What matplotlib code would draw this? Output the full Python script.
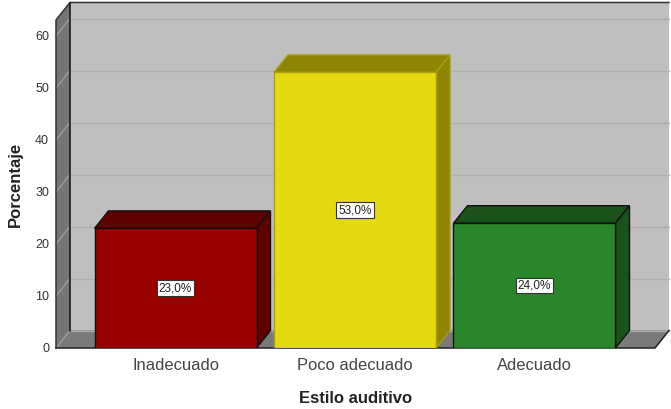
import numpy as np
import matplotlib.pyplot as plt
from matplotlib.patches import Polygon

plt.rcParams['font.family'] = ['Liberation Sans', 'DejaVu Sans']

categories = ['Inadecuado', 'Poco adecuado', 'Adecuado']
values = [23.0, 53.0, 24.0]
labels = ['23,0%', '53,0%', '24,0%']
yticks = [0, 10, 20, 30, 40, 50, 60]

front_colors = ['#990000', '#e5d90f', '#2a862a']
top_colors = ['#5f0000', '#8f8505', '#1a521a']
side_colors = ['#5f0000', '#8f8505', '#1a521a']
edge_colors = ['#111111', '#a89f10', '#111111']

W, H = 671, 409
fig = plt.figure(figsize=(W / 100, H / 100), dpi=100)
ax = fig.add_axes([56 / W, 1 - 348 / H, 599 / W, 328 / H])

# one category is 179.5 px, one unit is 5.2 px
ax.set_xlim((56 - 175.5) / 179.5, (655 - 175.5) / 179.5)
ax.set_ylim(0, 328 / 5.2)
x0, x1 = ax.get_xlim()
y0, y1 = ax.get_ylim()
dx = 14 / 179.5
dy = 17.5 / 5.2
width = 162 / 179.5


def poly(pts, fc, ec='none', lw=1.0, z=1):
    ax.add_patch(Polygon(pts, closed=True, facecolor=fc, edgecolor=ec, linewidth=lw,
                         zorder=z, clip_on=False, joinstyle='miter'))


# walls
poly([(x0 + dx, y0 + dy), (x1 + dx, y0 + dy), (x1 + dx, y1 + dy), (x0 + dx, y1 + dy)], '#bfbfbf', z=1)
poly([(x0, y0), (x0 + dx, y0 + dy), (x0 + dx, y1 + dy), (x0, y1)], '#757575', z=1)
poly([(x0, y0), (x1, y0), (x1 + dx, y0 + dy), (x0 + dx, y0 + dy)], '#7a7a7a', z=1)

for t in yticks[1:]:
    ax.plot([x0 + dx, x1 + dx], [t + dy, t + dy], color='#b0b0b0', lw=1, zorder=2, clip_on=False)
    ax.plot([x0, x0 + dx], [t, t + dy], color='#a0a0a0', lw=0.9, zorder=2, clip_on=False)
ax.plot([x0, x0 + dx], [0, dy], color='#a0a0a0', lw=0.9, zorder=2, clip_on=False)

# wall outlines
ax.plot([x0, x0, x0 + dx, x1 + dx], [y0, y1, y1 + dy, y1 + dy], color='#333333', lw=1.1, zorder=3, clip_on=False)
ax.plot([x0 + dx, x0 + dx], [y0 + dy, y1 + dy], color='#111111', lw=1.1, zorder=3, clip_on=False)
ax.plot([x0, x1, x1 + dx], [y0, y0, y0 + dy], color='#222222', lw=1.1, zorder=3, clip_on=False)
ax.plot([x0 + dx, x1 + dx], [y0 + dy, y0 + dy], color='#a8a8a8', lw=1, zorder=2, clip_on=False)

# bars
xs = np.arange(len(categories))
bars = ax.bar(xs, values, width=width, color=front_colors, edgecolor=edge_colors, linewidth=1.0, zorder=5)
for i, b in enumerate(bars):
    l, r, v = b.get_x(), b.get_x() + b.get_width(), b.get_height()
    poly([(l, v), (r, v), (r + dx, v + dy), (l + dx, v + dy)], top_colors[i], edge_colors[i], 1.0, 4)
    poly([(r, 0), (r + dx, dy), (r + dx, v + dy), (r, v)], side_colors[i], edge_colors[i], 1.0, 4)
    ax.text(xs[i], v / 2, labels[i], ha='center', va='center', fontsize=8.5, color='#222222', zorder=6,
            bbox=dict(boxstyle='square,pad=0.16', facecolor='white', edgecolor='#333333', linewidth=0.8))

for s in ax.spines.values():
    s.set_visible(False)
ax.patch.set_visible(False)

ax.set_yticks(yticks)
ax.set_xticks(xs)
ax.set_xticklabels(categories, fontsize=11.9, color='#444444')
ax.tick_params(axis='y', length=0, pad=5, labelsize=9, labelcolor='#333333')
ax.tick_params(axis='x', length=0, pad=7)
ax.set_xlabel('Estilo auditivo', fontsize=12, fontweight='bold', color='#222222', labelpad=13)
ax.set_ylabel('Porcentaje', fontsize=12, fontweight='bold', color='#222222', labelpad=9)

plt.savefig('out.png', dpi=100)
